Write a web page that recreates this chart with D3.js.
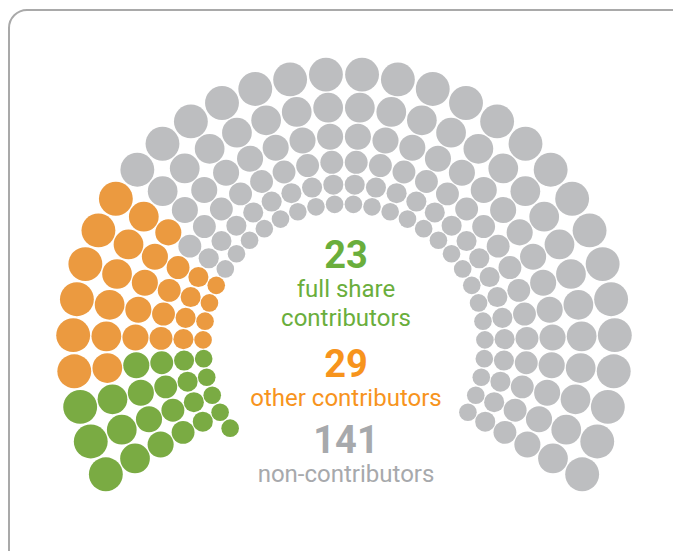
<!DOCTYPE html>
<html>
<head>
<meta charset="utf-8">
<script src="https://cdn.jsdelivr.net/npm/d3@7"></script>
<style>
  body { margin: 0; background: #fff; }
  svg { display: block; font-family: Roboto, sans-serif; }
</style>
</head>
<body>
<svg width="673" height="551"></svg>
<script>
  // group values, in the order the seats are filled (bottom-left, clockwise)
  const groups = ['full share contributors', 'other contributors', 'non-contributors'];
  const counts = [23, 29, 141];
  const labelLines = [['full share', 'contributors'], ['other contributors'], ['non-contributors']];
  const seatColors = ['#7aab43', '#eb9a40', '#bdbec0'];
  const textColors = ['#6aae3c', '#f7941d', '#a7a9ac'];

  (function (d3) {
    const svg = d3.select('svg');
    const width  = +svg.attr('width');
    const height = +svg.attr('height');

    // frame
    svg.append('rect')
      .attr('x', 9).attr('y', 10)
      .attr('width', width + 10).attr('height', height + 10)
      .attr('rx', 18)
      .attr('fill', 'none')
      .attr('stroke', '#a9a9a9')
      .attr('stroke-width', 2);

    const cx = 344, cy = 345;
    const rows = 6;
    const total = d3.sum(counts);
    const spokes = Math.floor(total / rows);
    const extra = total - spokes * rows;

    // angle in degrees, measured from the left horizontal going up
    const angleScale = d3.scaleLinear()
      .domain([0, spokes - 1])
      .range([-28.5, 208.5]);

    // rows get smaller toward the middle (geometric)
    const logRadius = d3.scaleLinear()
      .domain([0, rows - 1])
      .range([Math.log(271), Math.log(141)]);
    const radius = i => Math.exp(logRadius(i));

    const seats = [];
    for (let s = 0; s < spokes; s++) {
      for (let r = 0; r < rows; r++) {
        seats.push({ spoke: s, row: r });
      }
    }
    // leftover seats go on the inner row, before the first spoke
    for (let e = 0; e < extra; e++) {
      seats.push({ spoke: -1 - e, row: rows - 1 });
    }

    seats.forEach(d => {
      const a = angleScale(d.spoke) * Math.PI / 180;
      const R = radius(d.row);
      d.x = cx - R * Math.cos(a);
      d.y = cy - R * Math.sin(a);
      d.r = R * 0.0625;
    });

    seats.sort((a, b) => (a.spoke - b.spoke) || (a.y - b.y));

    const bounds = d3.cumsum(counts);
    seats.forEach((d, i) => {
      d.group = d3.bisectRight(bounds, i);
    });

    svg.append('g')
      .selectAll('circle').data(seats)
      .enter().append('circle')
        .attr('cx', d => d.x)
        .attr('cy', d => d.y)
        .attr('r', d => d.r)
        .attr('fill', d => seatColors[d.group]);

    // centre labels
    const numberY = [268, 377, 453];
    const label = svg.append('g')
      .attr('text-anchor', 'middle');

    groups.forEach((g, i) => {
      label.append('text')
        .attr('x', 346).attr('y', numberY[i])
        .attr('fill', textColors[i])
        .style('font-size', '38px')
        .style('font-weight', 'bold')
        .text(counts[i]);
      labelLines[i].forEach((line, j) => {
        label.append('text')
          .attr('x', 346).attr('y', numberY[i] + 29 + j * 29)
          .attr('fill', textColors[i])
          .style('font-size', '24px')
          .text(line);
      });
    });

  }(d3));
</script>
</body>
</html>
